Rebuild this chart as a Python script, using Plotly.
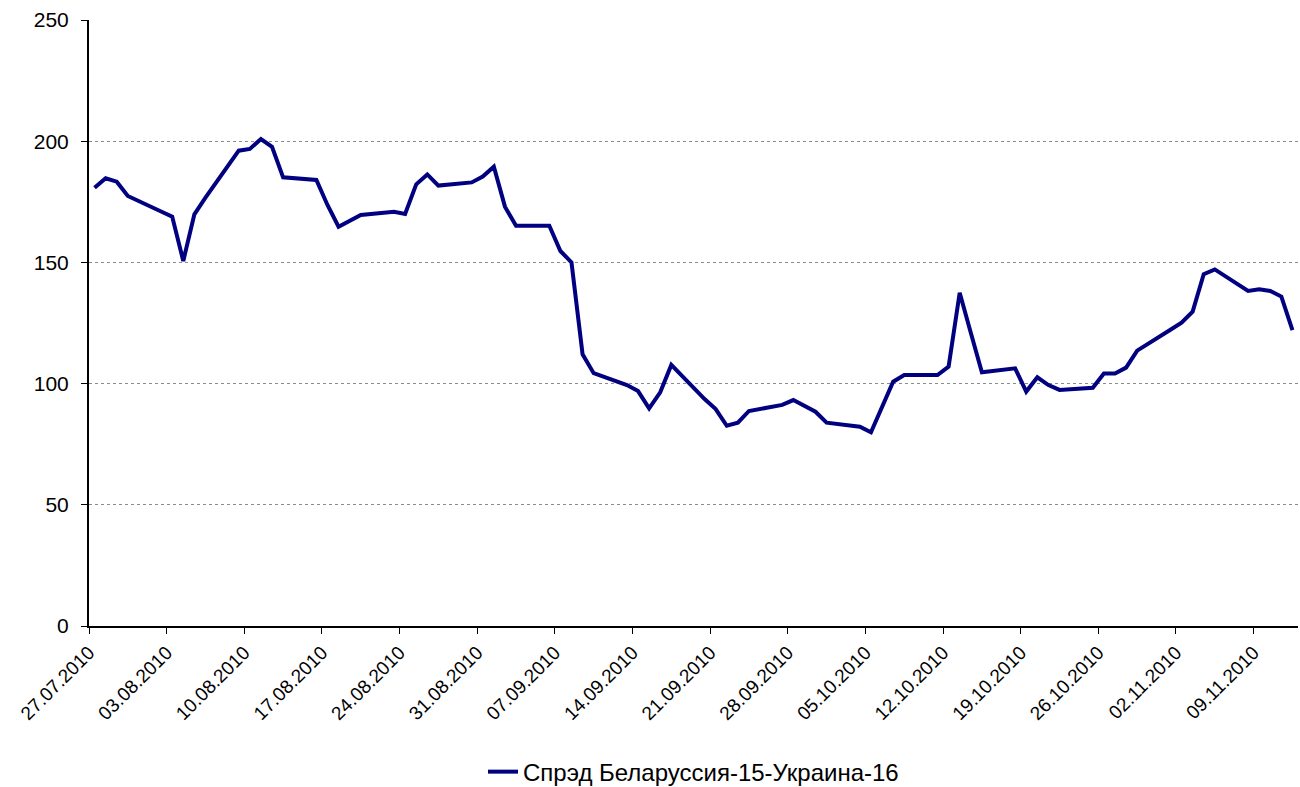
import pandas as pd
import plotly.graph_objects as go

dates = [
    "27.07.2010", "28.07.2010", "29.07.2010", "30.07.2010", "02.08.2010", "03.08.2010",
    "04.08.2010", "05.08.2010", "06.08.2010", "09.08.2010", "10.08.2010", "11.08.2010",
    "12.08.2010", "13.08.2010", "16.08.2010", "17.08.2010", "18.08.2010", "19.08.2010",
    "20.08.2010", "23.08.2010", "24.08.2010", "25.08.2010", "26.08.2010", "27.08.2010",
    "30.08.2010", "31.08.2010", "01.09.2010", "02.09.2010", "03.09.2010", "06.09.2010",
    "07.09.2010", "08.09.2010", "09.09.2010", "10.09.2010", "13.09.2010", "14.09.2010",
    "15.09.2010", "16.09.2010", "17.09.2010", "20.09.2010", "21.09.2010", "22.09.2010",
    "23.09.2010", "24.09.2010", "27.09.2010", "28.09.2010", "29.09.2010", "30.09.2010",
    "01.10.2010", "04.10.2010", "05.10.2010", "06.10.2010", "07.10.2010", "08.10.2010",
    "11.10.2010", "12.10.2010", "13.10.2010", "14.10.2010", "15.10.2010", "18.10.2010",
    "19.10.2010", "20.10.2010", "21.10.2010", "22.10.2010", "25.10.2010", "26.10.2010",
    "27.10.2010", "28.10.2010", "29.10.2010", "01.11.2010", "02.11.2010", "03.11.2010",
    "04.11.2010", "05.11.2010", "08.11.2010", "09.11.2010", "10.11.2010", "11.11.2010",
    "12.11.2010",
]

spread = [
    180.8, 184.7, 183.3, 177.4, 171.0, 168.9,
    150.6, 169.8, 176.7, 196.1, 196.8, 200.9,
    197.7, 185.1, 184.0, 173.7, 164.7, 167.2,
    169.6, 170.9, 170.0, 182.2, 186.3, 181.7,
    183.0, 185.4, 189.5, 173.0, 165.1, 165.1,
    154.7, 150.0, 112.1, 104.3, 99.4, 96.9,
    89.8, 96.4, 107.7, 93.6, 89.5, 82.6,
    83.9, 88.7, 91.2, 93.2, 90.6, 88.4,
    83.9, 82.2, 79.9, 90.3, 100.8, 103.5,
    103.5, 107.0, 137.5, 121.0, 104.7, 106.3,
    96.7, 102.6, 99.4, 97.4, 98.3, 104.2,
    104.2, 106.6, 113.6, 122.2, 125.1, 129.7,
    145.1, 147.1, 138.2, 138.9, 138.2, 135.9,
    122.1,
]

tick_labels = [
    "27.07.2010", "03.08.2010", "10.08.2010", "17.08.2010", "24.08.2010", "31.08.2010",
    "07.09.2010", "14.09.2010", "21.09.2010", "28.09.2010", "05.10.2010", "12.10.2010",
    "19.10.2010", "26.10.2010", "02.11.2010", "09.11.2010",
]

series_name = "Спрэд Беларуссия-15-Украина-16"

x_dates = pd.to_datetime(dates, format="%d.%m.%Y") + pd.Timedelta(hours=12)
tick_vals = pd.to_datetime(tick_labels, format="%d.%m.%Y")

fig = go.Figure()
fig.add_trace(go.Scatter(
    x=x_dates, y=spread, mode="lines", name=series_name,
    line=dict(color="#000080", width=4),
))

font_family = "Liberation Sans, Arial, sans-serif"

fig.update_layout(
    width=1300, height=787,
    margin=dict(l=89, r=2, t=20, b=161, autoexpand=False),
    paper_bgcolor="white", plot_bgcolor="white",
    font=dict(family=font_family, color="black"),
    showlegend=True,
    legend=dict(
        orientation="h", x=0.5, xanchor="center",
        yref="container", y=0.019, yanchor="middle",
        font=dict(size=24, family=font_family),
    ),
    xaxis=dict(
        type="date", automargin=False,
        range=[pd.Timestamp("2010-07-27"), pd.Timestamp("2010-11-13")],
        tickmode="array", tickvals=tick_vals, ticktext=tick_labels,
        tickangle=-45, tickfont=dict(size=19),
        showgrid=False, showline=True, linecolor="black", linewidth=2,
        ticks="outside", ticklen=6, tickcolor="black", tickwidth=1,
        zeroline=False,
    ),
    yaxis=dict(
        range=[0, 250], tickvals=[0, 50, 100, 150, 200, 250], automargin=False,
        tickfont=dict(size=21), ticklabelstandoff=8,
        showgrid=True, gridcolor="#8c8c8c", griddash="dot", gridwidth=1,
        showline=True, linecolor="black", linewidth=2,
        ticks="outside", ticklen=6, tickcolor="black",
        zeroline=False,
    ),
)

fig.write_html("out.html")
